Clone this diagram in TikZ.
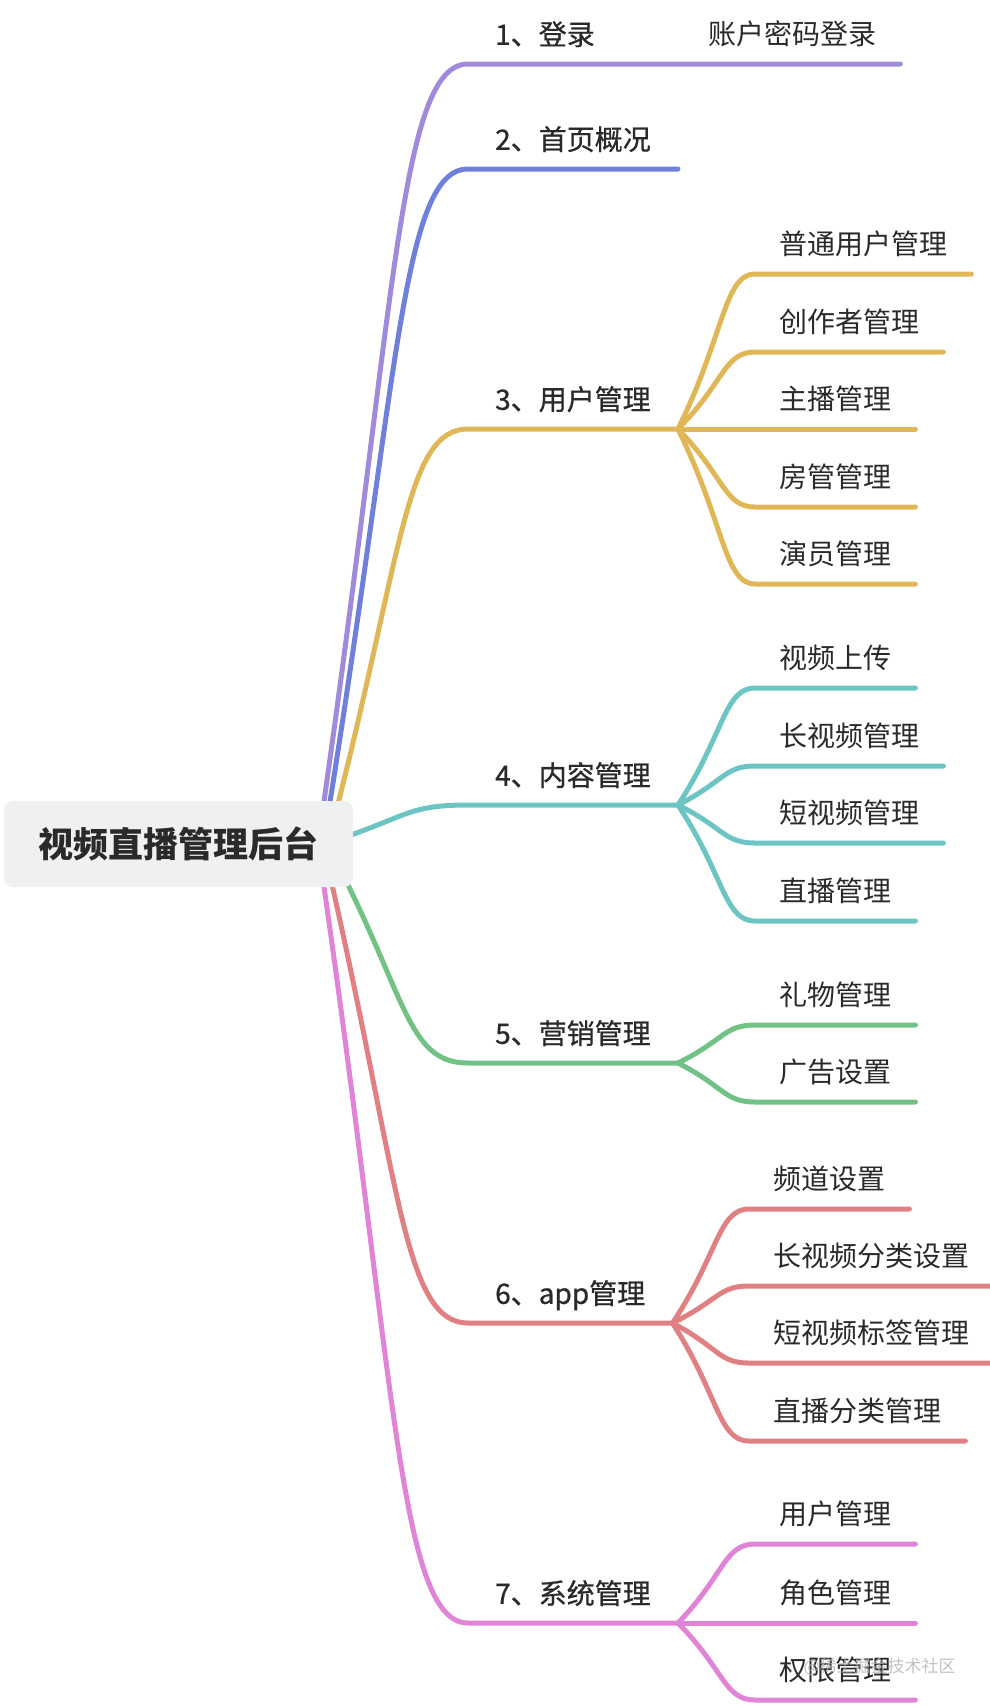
\documentclass[tikz,border=0pt]{standalone}
\usepackage{fontspec}
\setmainfont{Noto Sans CJK SC}
\newfontfamily\topicfont[FakeBold=0.8]{Noto Sans CJK SC}
\usetikzlibrary{calc,backgrounds}

\definecolor{rootgray}{HTML}{EEF0F1}
\definecolor{inkdark}{HTML}{2A2A2A}
\definecolor{cpurple}{HTML}{A08BDB}
\definecolor{cblue}{HTML}{6E80DA}
\definecolor{cgold}{HTML}{DFB757}
\definecolor{cteal}{HTML}{6CC5C3}
\definecolor{cgreen}{HTML}{71C284}
\definecolor{csalmon}{HTML}{E08083}
\definecolor{cpink}{HTML}{DF84D7}

\tikzset{
  mainlink/.style={to path={let \p1=(\tikztostart), \p2=(\tikztotarget) in
    .. controls ({\x1+0.5*(\x2-\x1)},{\y1+0.68*(\y2-\y1)}) and ({\x1+0.53*(\x2-\x1)},\y2) .. (\tikztotarget)}},
  sublink/.style={to path={let \p1=(\tikztostart), \p2=(\tikztotarget) in
    .. controls ({\x1+0.6*(\x2-\x1)},{\y1+0.6*(\y2-\y1)}) and ({\x1+0.6*(\x2-\x1)},\y2) .. (\tikztotarget)}},
}

\begin{document}
\begin{tikzpicture}[x=1pt, y=-1pt,
  every node/.style={text=inkdark, font=\fontsize{28}{33}\selectfont},
  topic/.style={anchor=south west, inner xsep=27pt, inner ysep=0pt, text depth=19pt,
    font=\fontsize{28}{33}\selectfont\topicfont},
  leaf/.style={anchor=south west, inner xsep=24pt, inner ysep=0pt, text depth=19pt},
  wire/.style={line width=5pt, line cap=round}]
\useasboundingbox (0,0) rectangle (990,1708);

\node[fill=rootgray, rounded corners=9pt, minimum width=349pt, minimum height=86pt,
  font=\fontsize{35}{40}\selectfont\bfseries] (root) at (178.5,844) {视频直播管理后台};

% first level
\node[topic] (t1) at (468,64) {1、登录};
\node[topic] (t2) at (468,169) {2、首页概况};
\node[topic] (t3) at (468,429) {3、用户管理};
\node[topic] (t4) at (468,805) {4、内容管理};
\node[topic] (t5) at (468,1063) {5、营销管理};
\node[topic] (t6) at (468,1323) {6、app管理};
\node[topic] (t7) at (468,1623) {7、系统管理};

% second level
\node[leaf] (s11) at (684,64) {账户密码登录};

\node[leaf] (s31) at (755,274) {普通用户管理};
\node[leaf] (s32) at (755,352) {创作者管理};
\node[leaf] (s33) at (755,429) {主播管理};
\node[leaf] (s34) at (755,507) {房管管理};
\node[leaf] (s35) at (755,584) {演员管理};

\node[leaf] (s41) at (755,688) {视频上传};
\node[leaf] (s42) at (755,766) {长视频管理};
\node[leaf] (s43) at (755,843) {短视频管理};
\node[leaf] (s44) at (755,921) {直播管理};

\node[leaf] (s51) at (755,1025) {礼物管理};
\node[leaf] (s52) at (755,1102) {广告设置};

\node[leaf] (s61) at (749,1209) {频道设置};
\node[leaf] (s62) at (749,1286) {长视频分类设置};
\node[leaf] (s63) at (749,1363) {短视频标签管理};
\node[leaf] (s64) at (749,1441) {直播分类管理};

\node[leaf] (s71) at (755,1544) {用户管理};
\node[leaf] (s72) at (755,1623) {角色管理};
\node[leaf] (s73) at (755,1700) {权限管理};

% where the branches leave the root
\coordinate (r1) at ($(root.north east)+(-30,6)$);
\coordinate (r2) at ($(root.north east)+(-24,6)$);
\coordinate (r3) at ($(root.north east)+(-16,6)$);
\coordinate (r4) at ($(root.east)+(-5,-8)$);
\coordinate (r5) at ($(root.south east)+(-7,-6)$);
\coordinate (r6) at ($(root.south east)+(-22,-6)$);
\coordinate (r7) at ($(root.south east)+(-30,-6)$);

\begin{scope}[on background layer]
  \draw[wire, cpurple] (r1) to[mainlink] (t1.south west) -- (t1.south east)
    -- (s11.south west) -- (s11.south east);
  \draw[wire, cblue] (r2) to[mainlink] (t2.south west) -- (t2.south east);
  \draw[wire, cgold] (r3) to[mainlink] (t3.south west) -- (t3.south east);
  \draw[wire, cteal] (r4) to[mainlink] (t4.south west) -- (t4.south east);
  \draw[wire, cgreen] (r5) to[mainlink] (t5.south west) -- (t5.south east);
  \draw[wire, csalmon] (r6) to[mainlink] (t6.south west) -- (t6.south east);
  \draw[wire, cpink] (r7) to[mainlink] (t7.south west) -- (t7.south east);

  \foreach \k in {1,...,5}
    \draw[wire, cgold] (t3.south east) to[sublink] (s3\k.south west) -- (s3\k.south east);
  \foreach \k in {1,...,4}
    \draw[wire, cteal] (t4.south east) to[sublink] (s4\k.south west) -- (s4\k.south east);
  \foreach \k in {1,2}
    \draw[wire, cgreen] (t5.south east) to[sublink] (s5\k.south west) -- (s5\k.south east);
  \foreach \k in {1,...,4}
    \draw[wire, csalmon] (t6.south east) to[sublink] (s6\k.south west) -- (s6\k.south east);
  \foreach \k in {1,2,3}
    \draw[wire, cpink] (t7.south east) to[sublink] (s7\k.south west) -- (s7\k.south east);
\end{scope}

\node[anchor=west, text=gray!60, opacity=0.8, font=\fontsize{17}{20}\selectfont] (mark)
  at (800,1667) {@稀土掘金技术社区};
\end{tikzpicture}
\end{document}
